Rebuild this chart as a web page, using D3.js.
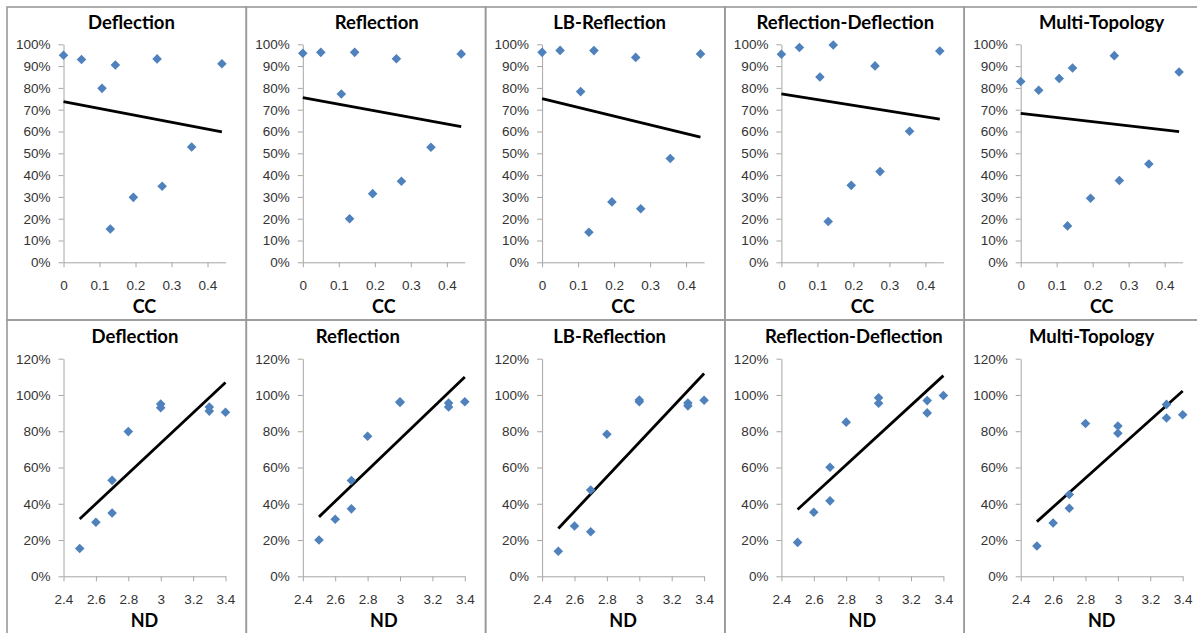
<!DOCTYPE html>
<html>
<head>
<meta charset="utf-8">
<script src="https://cdn.jsdelivr.net/npm/d3@7"></script>
<style>
  body { margin: 0; background: #fff; }
  svg { display: block; font-family: Lato, "Open Sans", sans-serif; }
  .tick text { fill: #333; font-size: 13.5px; }
  .tick line, .domain { stroke: #a6a6a6; }
</style>
</head>
<body>
<svg id="chart" width="1197" height="633"></svg>
<script>
// ten networks, same order in every array
const cc = [0, 0.05, 0.107, 0.13, 0.144, 0.194, 0.26, 0.274, 0.356, 0.44];
const nd = [3.0, 3.0, 2.8, 2.5, 3.4, 2.6, 3.3, 2.7, 2.7, 3.3];

const methods = ["Deflection", "Reflection", "LB-Reflection", "Reflection-Deflection", "Multi-Topology"];
const deflection    = [0.950, 0.930, 0.798, 0.153, 0.905, 0.298, 0.933, 0.349, 0.529, 0.911];
const reflection    = [0.959, 0.963, 0.772, 0.200, 0.963, 0.315, 0.934, 0.372, 0.528, 0.956];
const lbReflection  = [0.963, 0.972, 0.783, 0.138, 0.971, 0.277, 0.940, 0.246, 0.476, 0.956];
const reflDefl      = [0.954, 0.985, 0.850, 0.187, 0.997, 0.353, 0.901, 0.416, 0.601, 0.969];
const multiTopology = [0.829, 0.789, 0.843, 0.167, 0.891, 0.294, 0.948, 0.375, 0.451, 0.873];
const series = [deflection, reflection, lbReflection, reflDefl, multiTopology];

const ccTicks = [0, 0.1, 0.2, 0.3, 0.4];
const ndTicks = [2.4, 2.6, 2.8, 3.0, 3.2, 3.4];
const pctTicksTop = [0, 0.1, 0.2, 0.3, 0.4, 0.5, 0.6, 0.7, 0.8, 0.9, 1.0];
const pctTicksBottom = [0, 0.2, 0.4, 0.6, 0.8, 1.0, 1.2];

// layout
const cellX0 = 7, cellW = 239.3;
const plotDx = 56.5, plotW = 162;
const titleDxTop = [124.5, 130.4, 124, 120.4, 137.5];
const titleDxBottom = [128, 111.5, 124, 129, 127.5];

const rows = [
  { key: "cc", xs: cc, xDomain: [0, 0.45], xTicks: ccTicks, xLabel: "CC",
    yDomain: [0, 1], yTicks: pctTicksTop, yRange: [262.3, 44.3],
    cellY: 7, cellH: 313, titleY: 23, labelY: 307, titleDx: titleDxTop },
  { key: "nd", xs: nd, xDomain: [2.4, 3.4], xTicks: ndTicks, xLabel: "ND",
    yDomain: [0, 1.2], yTicks: pctTicksBottom, yRange: [576.3, 358.7],
    cellY: 320, cellH: 330, titleY: 337, labelY: 621, titleDx: titleDxBottom }
];

const svg = d3.select("#chart");
const pct = d3.format(".0%");
const num = d => String(+d.toFixed(1));

function linreg(xs, ys) {
  const mx = d3.mean(xs), my = d3.mean(ys);
  const sxy = d3.sum(xs, (x, i) => (x - mx) * (ys[i] - my));
  const sxx = d3.sum(xs, x => (x - mx) * (x - mx));
  const b = sxy / sxx;
  return x => my + b * (x - mx);
}

rows.forEach(row => {
  methods.forEach((name, i) => {
    const x0 = cellX0 + i * cellW;
    const g = svg.append("g");

    // panel frame
    g.append("rect")
      .attr("x", x0).attr("y", row.cellY)
      .attr("width", cellW).attr("height", row.cellH)
      .attr("fill", "none").attr("stroke", "#999").attr("stroke-width", 1.6);

    const x = d3.scaleLinear().domain(row.xDomain).range([x0 + plotDx, x0 + plotDx + plotW]);
    const y = d3.scaleLinear().domain(row.yDomain).range(row.yRange);

    g.append("g")
      .attr("transform", `translate(0,${row.yRange[0]})`)
      .call(d3.axisBottom(x).tickValues(row.xTicks).tickFormat(num).tickSize(5).tickPadding(13).tickSizeOuter(0));

    g.append("g")
      .attr("transform", `translate(${x0 + plotDx},0)`)
      .call(d3.axisLeft(y).tickValues(row.yTicks).tickFormat(pct).tickSize(5).tickPadding(8).tickSizeOuter(0));

    // trend line
    const ys = series[i];
    const fit = linreg(row.xs, ys);
    const ext = d3.extent(row.xs);
    g.append("path")
      .attr("d", d3.line().x(d => x(d)).y(d => y(fit(d)))(ext))
      .attr("stroke", "#000").attr("stroke-width", 2.8).attr("fill", "none");

    // points
    g.selectAll(".pt")
      .data(row.xs.map((v, k) => [v, ys[k]]))
      .join("path")
      .attr("class", "pt")
      .attr("d", d3.symbol(d3.symbolSquare, 46))
      .attr("transform", d => `translate(${x(d[0])},${y(d[1])}) rotate(45)`)
      .attr("fill", "#4f81bd");

    g.append("text")
      .attr("x", x0 + row.titleDx[i]).attr("y", row.titleY)
      .attr("dy", "0.35em").attr("text-anchor", "middle")
      .style("font-size", "18.5px").style("font-weight", "bold")
      .text(name);

    g.append("text")
      .attr("x", x0 + plotDx + plotW / 2).attr("y", row.labelY)
      .attr("dy", "0.35em").attr("text-anchor", "middle")
      .style("font-size", "18px").style("font-weight", "bold")
      .text(row.xLabel);
  });
});
</script>
</body>
</html>
